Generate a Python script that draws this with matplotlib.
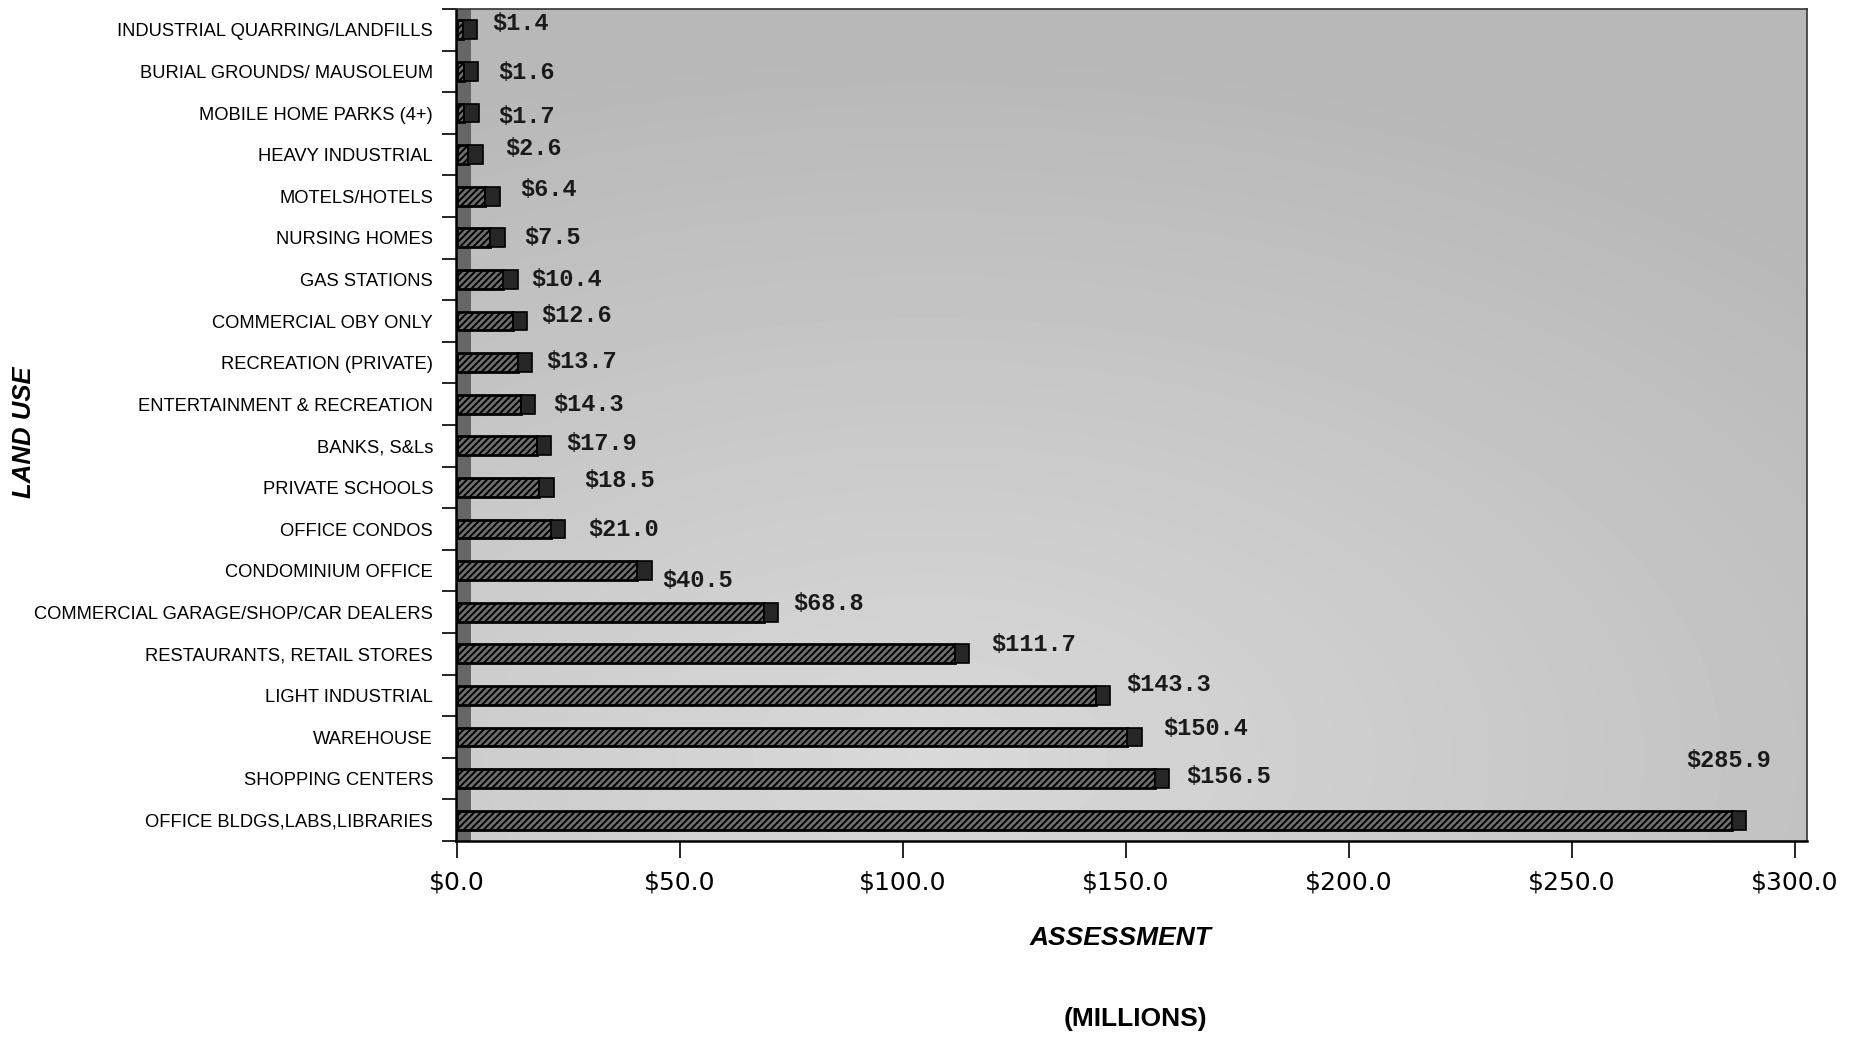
import numpy as np
import matplotlib
matplotlib.use("Agg")
import matplotlib.pyplot as plt

# Assessed value by land use, in millions of dollars
categories = [
    "INDUSTRIAL QUARRING/LANDFILLS",
    "BURIAL GROUNDS/ MAUSOLEUM",
    "MOBILE HOME PARKS (4+)",
    "HEAVY INDUSTRIAL",
    "MOTELS/HOTELS",
    "NURSING HOMES",
    "GAS STATIONS",
    "COMMERCIAL OBY ONLY",
    "RECREATION (PRIVATE)",
    "ENTERTAINMENT & RECREATION",
    "BANKS, S&Ls",
    "PRIVATE SCHOOLS",
    "OFFICE CONDOS",
    "CONDOMINIUM OFFICE",
    "COMMERCIAL GARAGE/SHOP/CAR DEALERS",
    "RESTAURANTS, RETAIL STORES",
    "LIGHT INDUSTRIAL",
    "WAREHOUSE",
    "SHOPPING CENTERS",
    "OFFICE BLDGS,LABS,LIBRARIES",
]
assessment = [1.4, 1.6, 1.7, 2.6, 6.4, 7.5, 10.4, 12.6, 13.7, 14.3,
              17.9, 18.5, 21.0, 40.5, 68.8, 111.7, 143.3, 150.4, 156.5, 285.9]
x_ticks = [0, 50, 100, 150, 200, 250, 300]
x_tick_labels = [r"\$%.1f" % v for v in x_ticks]

# value-label placement: horizontal gap (data units) and vertical nudge (points)
label_dx = [6.6, 7.7, 7.6, 8.3, 7.7, 7.6, 6.3, 6.2, 6.4, 7.2,
            6.7, 10.1, 8.4, 5.6, 6.6, 8.2, 6.8, 7.9, 7.0, -10.2]
label_dy = [4.8, -0.8, -2.5, 4.2, 5.1, 0, 0, 4.2, 0.8, 0,
            1.7, 5.1, 0, -6.8, 6.0, 6.8, 7.6, 6.0, 1.7, 43.0]

DEPTH = 3.2        # width of the pseudo-3D side wall / end faces
BAR_H = 0.45

fig = plt.figure(figsize=(18.54, 10.38), dpi=100)
ax = fig.add_axes([456 / 1854, 1 - 841 / 1038, (1807 - 456) / 1854, (841 - 9) / 1038])

n = len(categories)
y = np.arange(n)
ax.set_xlim(-0.2, 302.8)
ax.set_ylim(n - 0.5, -0.5)

# shaded backdrop: lighter toward the lower-left, darker toward the top-right
gx, gy = np.meshgrid(np.linspace(0, 1, 300), np.linspace(0, 1, 200))
dist = np.sqrt(((gx - 0.35) / 1.0) ** 2 + ((gy - 0.1) / 0.9) ** 2)
shade = 0.85 - 0.13 * np.clip(dist / 0.95, 0, 1)
ax.imshow(shade, cmap="gray", vmin=0, vmax=1, extent=(0, 1, 0, 1),
          transform=ax.transAxes, aspect="auto", origin="lower", zorder=0,
          interpolation="bilinear")

# left side wall of the 3D box
ax.axvspan(0, DEPTH, color="#666666", zorder=1, lw=0)

plt.rcParams["hatch.linewidth"] = 1.4
ax.barh(y, assessment, height=BAR_H, left=0, color="#6e6e6e",
        edgecolor="black", hatch="/////", linewidth=2.0, zorder=3)
# dark end faces
ax.barh(y, [DEPTH] * n, height=BAR_H, left=assessment, color="#262626",
        edgecolor="black", linewidth=1.2, zorder=3)

for i, v in enumerate(assessment):
    ax.annotate(r"\$%.1f" % v, xy=(v + label_dx[i], i), xytext=(0, label_dy[i]),
                textcoords="offset points", ha="left", va="center",
                fontfamily="Liberation Mono", fontweight="bold", fontsize=17,
                color="#1a1a1a", zorder=5)

# y axis: boundary ticks between rows, category names centred on rows
ax.set_yticks(np.arange(-0.5, n, 1.0))
ax.set_yticklabels([])
ax.tick_params(axis="y", which="major", direction="out", length=10, width=1.2,
               color="black")
ax.set_yticks(y, minor=True)
ax.set_yticklabels(categories, minor=True, fontfamily="Liberation Sans",
                   fontsize=13.2)
ax.tick_params(axis="y", which="minor", length=0, pad=16.5)

ax.set_xticks(x_ticks)
ax.set_xticklabels(x_tick_labels, fontfamily="DejaVu Sans", fontsize=18)
ax.tick_params(axis="x", direction="out", length=12, width=1.2, pad=9)

for side in ("left", "bottom"):
    ax.spines[side].set_linewidth(1.8)
    ax.spines[side].set_color("black")
for side in ("top", "right"):
    ax.spines[side].set_linewidth(1.2)
    ax.spines[side].set_color("#333333")

fig.text(1120 / 1854, 1 - 938 / 1038, "ASSESSMENT", ha="center", va="center",
         fontfamily="Liberation Sans", fontweight="bold", fontstyle="italic",
         fontsize=19)
fig.text(1135 / 1854, 1 - 1019 / 1038, "(MILLIONS)", ha="center", va="center",
         fontfamily="Liberation Sans", fontweight="bold", fontsize=19)
fig.text(24 / 1854, 1 - 432 / 1038, "LAND USE", ha="center", va="center",
         rotation=90, fontfamily="Liberation Sans", fontweight="bold",
         fontstyle="italic", fontsize=18.5)

fig.savefig("out.png", dpi=100, facecolor="white")
